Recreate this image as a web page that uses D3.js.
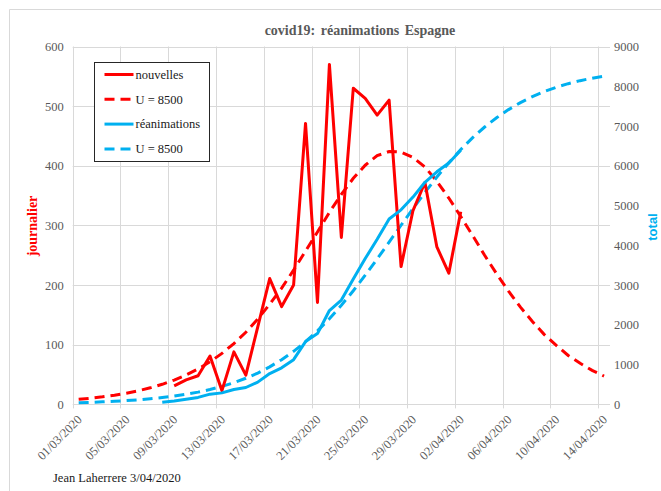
<!DOCTYPE html>
<html>
<head>
<meta charset="utf-8">
<script src="https://cdn.jsdelivr.net/npm/d3@7"></script>
<style>
  body { margin: 0; background: #fff; }
  svg { display: block; }
  text { font-family: "Liberation Serif", "Times New Roman", serif; }
</style>
</head>
<body>
<div id="chart"></div>
<script>
// categories (one per day)
var dates = [
  "01/03/2020","02/03/2020","03/03/2020","04/03/2020","05/03/2020","06/03/2020","07/03/2020","08/03/2020",
  "09/03/2020","10/03/2020","11/03/2020","12/03/2020","13/03/2020","14/03/2020","15/03/2020","16/03/2020",
  "17/03/2020","18/03/2020","19/03/2020","20/03/2020","21/03/2020","22/03/2020","23/03/2020","24/03/2020",
  "25/03/2020","26/03/2020","27/03/2020","28/03/2020","29/03/2020","30/03/2020","31/03/2020","01/04/2020",
  "02/04/2020","03/04/2020","04/04/2020","05/04/2020","06/04/2020","07/04/2020","08/04/2020","09/04/2020",
  "10/04/2020","11/04/2020","12/04/2020","13/04/2020","14/04/2020"];
var tickLabels = ["01/03/2020","05/03/2020","09/03/2020","13/03/2020","17/03/2020","21/03/2020",
  "25/03/2020","29/03/2020","02/04/2020","06/04/2020","10/04/2020","14/04/2020"];

// daily new ICU admissions (left axis), from 09/03
var nouvellesStart = "09/03/2020";
var nouvelles = [31,41,48,81,23,88,49,130,211,164,200,471,171,570,280,530,513,485,510,231,325,372,264,220,323];
// daily model U = 8500 (left axis)
var nouvellesU = [8.5,10.4,12.7,15.5,18.8,22.9,27.8,33.7,40.8,49.3,59.4,71.4,85.5,102,121,143,168,195,225,257,
  289,322,352,379,401,417,424,423,414,398,374,346,315,283,250,219,190,163,139,117,99,82,69,57,47.5];
// cumulative ICU (right axis), from 08/03
var reaStart = "08/03/2020";
var reanimations = [53,85,128,176,258,290,375,425,560,775,920,1125,1580,1780,2360,2624,3154,3667,4152,4662,
  4893,5213,5585,5849,6069,6392];
// cumulative model U = 8500 (right axis)
var reanimationsU = [43,52,64,78,95,116,141,172,209,254,308,374,452,545,657,789,944,1125,1335,1576,1849,2155,
  2492,2858,3249,3659,4080,4505,4924,5331,5717,6078,6409,6708,6975,7209,7413,7589,7739,7867,7975,8065,8141,
  8203,8256];

var leftTicks = [0,100,200,300,400,500,600];
var rightTicks = [0,1000,2000,3000,4000,5000,6000,7000,8000,9000];

var width = 661, height = 491;
var red = "#ff0000", blue = "#00b0f0", grey = "#595959", gridCol = "#d9d9d9";

var svg = d3.select("#chart").append("svg")
  .attr("width", width)
  .attr("height", height);

svg.append("rect").attr("width", width).attr("height", height).attr("fill", "#fff");

// chart area border (only top and left visible)
svg.append("path")
  .attr("d", "M9.5," + height + "V9.5H" + width)
  .attr("fill", "none")
  .attr("stroke", gridCol);

var plotL = 72.7, plotR = 610, plotT = 46.5, plotB = 404.4;

var x = d3.scaleBand().domain(dates).range([plotL, plotR]).padding(0);
var cx = function(d) { return x(d) + x.bandwidth() / 2; };
var yL = d3.scaleLinear().domain([0, 600]).range([plotB, plotT]);
var yR = d3.scaleLinear().domain([0, 9000]).range([plotB, plotT]);

// horizontal gridlines
svg.append("g").selectAll("line").data(leftTicks).enter().append("line")
  .attr("x1", plotL).attr("x2", plotR)
  .attr("y1", function(d) { return Math.round(yL(d)) + 0.5; })
  .attr("y2", function(d) { return Math.round(yL(d)) + 0.5; })
  .attr("stroke", gridCol).attr("stroke-width", 1);

// vertical gridlines at every 4th day
svg.append("g").selectAll("line").data(tickLabels).enter().append("line")
  .attr("x1", function(d) { return Math.round(x(d)) + 0.5; })
  .attr("x2", function(d) { return Math.round(x(d)) + 0.5; })
  .attr("y1", plotT).attr("y2", plotB + 4)
  .attr("stroke", gridCol).attr("stroke-width", 1);

// left axis
var axL = svg.append("g")
  .attr("transform", "translate(" + (plotL - 9) + ",0)")
  .call(d3.axisLeft(yL).tickValues(leftTicks).tickFormat(d3.format("d")).tickSize(0).tickPadding(0));
axL.select(".domain").remove();
axL.selectAll("text").attr("fill", grey).style("font-size", "12.5px")
  .style("font-family", "Liberation Serif, serif");

// right axis
var axR = svg.append("g")
  .attr("transform", "translate(" + (plotR + 4) + ",0)")
  .call(d3.axisRight(yR).tickValues(rightTicks).tickFormat(d3.format("d")).tickSize(0).tickPadding(0));
axR.select(".domain").remove();
axR.selectAll("text").attr("fill", grey).style("font-size", "12.5px")
  .style("font-family", "Liberation Serif, serif");

// bottom axis labels
var axB = svg.append("g")
  .attr("transform", "translate(0," + plotB + ")")
  .call(d3.axisBottom(x).tickValues(tickLabels).tickSize(0).tickPadding(0));
axB.select(".domain").remove();
axB.selectAll("text")
  .attr("fill", grey).style("font-size", "12.5px")
  .style("font-family", "Liberation Serif, serif")
  .attr("text-anchor", "end")
  .attr("dy", null).attr("y", 0)
  .attr("transform", "translate(4,16) rotate(-45)");

// lines
var lineL = function(start) {
  var s = dates.indexOf(start);
  return d3.line().x(function(d, i) { return cx(dates[s + i]); }).y(function(d) { return yL(d); });
};
var lineR = function(start) {
  var s = dates.indexOf(start);
  return d3.line().x(function(d, i) { return cx(dates[s + i]); }).y(function(d) { return yR(d); });
};

svg.append("path").datum(nouvellesU)
  .attr("d", lineL(dates[0])).attr("fill", "none")
  .attr("stroke", red).attr("stroke-width", 3).attr("stroke-dasharray", "10,6");

svg.append("path").datum(reanimationsU)
  .attr("d", lineR(dates[0])).attr("fill", "none")
  .attr("stroke", blue).attr("stroke-width", 3).attr("stroke-dasharray", "10,6");

svg.append("path").datum(nouvelles)
  .attr("d", lineL(nouvellesStart)).attr("fill", "none")
  .attr("stroke", red).attr("stroke-width", 3).attr("stroke-linejoin", "round");

svg.append("path").datum(reanimations)
  .attr("d", lineR(reaStart)).attr("fill", "none")
  .attr("stroke", blue).attr("stroke-width", 3).attr("stroke-linejoin", "round");

// title
svg.append("text")
  .attr("x", 360).attr("y", 35)
  .attr("text-anchor", "middle")
  .attr("fill", grey)
  .style("font-size", "14px").style("font-weight", "bold")
  .style("word-spacing", "2px")
  .text("covid19: réanimations Espagne");

// axis titles
svg.append("text")
  .attr("transform", "translate(37,226) rotate(-90)")
  .attr("text-anchor", "middle")
  .attr("fill", red)
  .style("font-size", "14px").style("font-weight", "bold")
  .text("journalier");

svg.append("text")
  .attr("transform", "translate(657,227) rotate(-90)")
  .attr("text-anchor", "middle")
  .attr("fill", blue)
  .style("font-size", "13px").style("font-weight", "bold")
  .style("font-family", "Liberation Sans, sans-serif")
  .text("total");

// legend
var legendItems = [
  { name: "nouvelles", color: red, dash: null },
  { name: "U = 8500", color: red, dash: "10,6" },
  { name: "réanimations", color: blue, dash: null },
  { name: "U = 8500", color: blue, dash: "10,6" }
];
var legend = svg.append("g").attr("transform", "translate(94.5,62.5)");
legend.append("rect").attr("width", 115).attr("height", 99)
  .attr("fill", "#fff").attr("stroke", "#262626").attr("stroke-width", 1);
var rows = legend.selectAll("g").data(legendItems).enter().append("g")
  .attr("transform", function(d, i) { return "translate(0," + (12 + i * 24.8) + ")"; });
rows.append("line").attr("x1", 10).attr("x2", 39)
  .attr("stroke", function(d) { return d.color; })
  .attr("stroke-width", 3)
  .attr("stroke-dasharray", function(d) { return d.dash; });
rows.append("text").attr("x", 41).attr("dy", "0.35em")
  .attr("fill", "#1a1a1a").style("font-size", "12.5px")
  .text(function(d) { return d.name; });

// footer
svg.append("text")
  .attr("x", 53).attr("y", 482)
  .attr("fill", "#1a1a1a").style("font-size", "12.5px")
  .text("Jean Laherrere 3/04/2020");
</script>
</body>
</html>
